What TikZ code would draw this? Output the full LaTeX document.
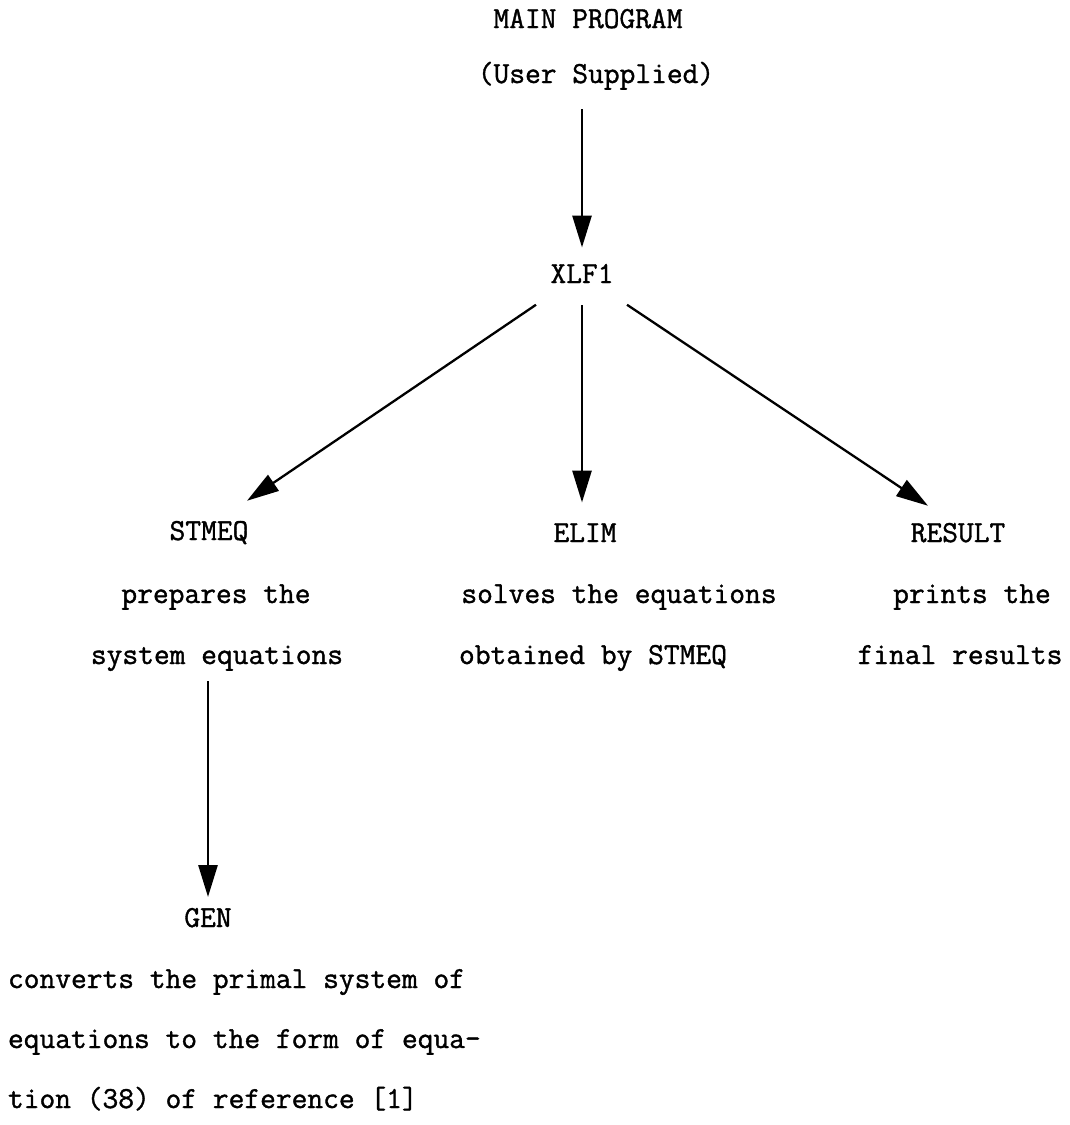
\documentclass[tikz,border=0pt]{standalone}
\usepackage{fontspec}
\setmonofont{Latin Modern Mono}[FakeBold=1.2]
\usetikzlibrary{arrows.meta}
\tikzset{
  lbl/.style={inner sep=0pt, outer sep=0pt, text height=18.5pt, text depth=0pt,
    font=\fontsize{30.6}{36}\selectfont\ttfamily, anchor=base},
  lline/.style={lbl, anchor=base west},
  arr/.style={line width=2.8pt, -{Triangle[length=32pt,width=19pt]}},
  darr/.style={arr, line width=2.3pt}
}
\begin{document}
\begin{tikzpicture}[x=1pt,y=-1pt]
  \useasboundingbox (0,0) rectangle (1070,1125);

  % top of the call tree
  \node[lbl] (mainp) at (588,28) {MAIN PROGRAM};
  \node[lbl] (user)  at (596,83) {(User Supplied)};
  \node[lbl] (xlf)   at (582,283) {XLF1};

  % second level
  \node[lbl] (stmeq) at (209,540) {STMEQ};
  \node[lbl] (stmeqa) at (216,603) {prepares the};
  \node[lbl] (stmeqb) at (217,664) {system equations};

  \node[lbl] (elim)  at (585,542) {ELIM};
  \node[lbl] (elima) at (619,603) {solves the equations};
  \node[lbl] (elimb) at (593,664) {obtained by STMEQ};

  \node[lbl] (result)  at (958,542) {RESULT};
  \node[lbl] (resulta) at (972,603) {prints the};
  \node[lbl] (resultb) at (960,664) {final results};

  % third level
  \node[lbl] (gen) at (208,927) {GEN};
  \node[lline] (gena) at (8,988)  {converts the primal system of};
  \node[lline] (genb) at (8,1048) {equations to the form of equa-};
  \node[lline] (genc) at (8,1108) {tion (38) of reference [1]};

  % calls
  \draw[arr] ([yshift=-26pt]user.south -| xlf.north) -- ([yshift=17pt]xlf.north);
  \draw[arr] ([yshift=-22pt]xlf.south) -- ([yshift=21pt]xlf.south |- elim.north);
  \draw[darr] ([shift={(-46pt,-31pt)}]xlf.center) -- ([shift={(38pt,30pt)}]stmeq.center);
  \draw[darr] ([shift={(45pt,-31pt)}]xlf.center) -- ([shift={(-30pt,27pt)}]result.center);
  \draw[arr] ([yshift=-17pt]stmeqb.south -| gen.north) -- ([yshift=11.5pt]gen.north);
\end{tikzpicture}
\end{document}
